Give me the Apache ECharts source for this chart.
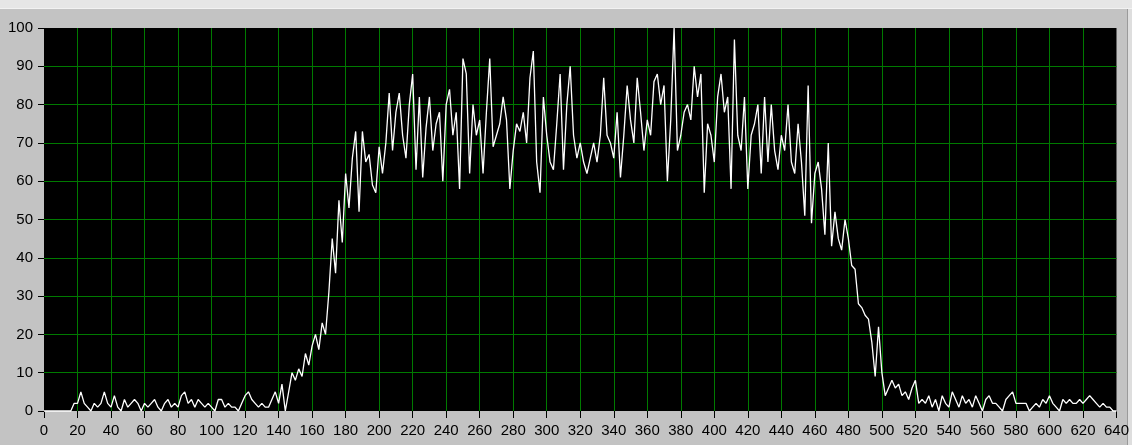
<!DOCTYPE html>
<html>
<head>
<meta charset="utf-8">
<script src="https://cdn.jsdelivr.net/npm/echarts@6/dist/echarts.min.js"></script>
<style>
html,body{margin:0;padding:0;background:#c3c3c3;}
#chart{width:1132px;height:445px;}
</style>
</head>
<body>
<div id="chart"></div>
<script>
// sample spacing along the x axis (units)
const SAMPLE_STEP = 2;
// signal values, one per SAMPLE_STEP starting at x = 0
const signalLow = [
  0,0,0,0,0,0,0,0,0, 2, 2,5,2,1,0,2,1,2,5,2,
  1,4,1,0,3,1,2,3,2,0, 2,1,2,3,1,0,2,3,1,2,
  1,4,5,2,3,1,3,2,1,2, 1,0,3,3,1,2,1,1,0,2,
  4,5,3,2,1,2,1,1,3,5, 2,7,0,5,10,8,11,9,15,12
];
const signalRise = [
  17,20,16,23,20,31,45,36,55,44, 62,53,66,73,52,73,65,67,59,57
];
const signalPlateau = [
  69,62,70,83,68,78,83,72,66,80, 88,63,82,61,74,82,68,75,78,60,
  80,84,72,78,58,92,88,62,80,72, 76,62,78,92,69,72,75,82,76,58,
  68,75,73,78,70,87,94,65,57,82, 72,65,63,75,88,63,80,90,72,66,
  70,65,62,66,70,65,72,87,72,70, 66,78,61,72,85,76,70,87,78,68,
  76,72,86,88,80,85,60,76,100,68, 72,78,80,76,90,82,88,57,75,72,
  65,82,88,78,82,58,97,72,68,82, 58,72,75,80,62,82,65,80,68,63,
  72,68,80,65,62,75,65,51,85,49
];
const signalFall = [
  62,65,58,46,70,43,52,45,42,50, 45,38,37,28,27,25,24,18,9,22
];
const signalTail = [
  10,4,6,8,6,7,4,5,3,6, 8,2,3,2,4,1,3,0,4,2,
  1,5,3,1,4,2,3,1,4,2, 0,3,4,2,2,1,0,3,4,5,
  2,2,2,2,0,1,2,1,3,2, 4,2,1,0,3,2,3,2,2,3,
  2,3,4,3,2,1,2,1,1,0, 0
];
const signal = [].concat(signalLow, signalRise, signalPlateau, signalFall, signalTail);

const xTicks = {min: 0, max: 640, interval: 20};
const yTicks = {min: 0, max: 100, interval: 10};

const seriesData = signal.map((v, i) => [i * SAMPLE_STEP, v]);

const labelFont = "'Liberation Sans Narrow','Arial Narrow','Liberation Sans',sans-serif";
const gridGreen = '#007a00';

const chart = echarts.init(document.getElementById('chart'), null, {renderer: 'canvas'});
chart.setOption({
  animation: false,
  backgroundColor: '#c3c3c3',
  graphic: [
    {type: 'rect', shape: {x: 0, y: 0, width: 1132, height: 8}, style: {fill: '#e6e6e6'}, silent: true},
    {type: 'rect', shape: {x: 0, y: 8, width: 1132, height: 1}, style: {fill: '#f2f2f2'}, silent: true},
    {type: 'rect', shape: {x: 1127, y: 9, width: 1, height: 436}, style: {fill: '#9a9a9a'}, silent: true},
    {type: 'rect', shape: {x: 1128, y: 9, width: 4, height: 436}, style: {fill: '#dedede'}, silent: true}
  ],
  grid: {
    left: 44, top: 28, width: 1073, height: 383,
    show: true, backgroundColor: '#000000', borderWidth: 0
  },
  xAxis: {
    type: 'value',
    min: xTicks.min, max: xTicks.max, interval: xTicks.interval,
    offset: 3,
    axisLine: {show: false},
    axisTick: {show: true, length: 7, lineStyle: {color: '#000', width: 1}},
    axisLabel: {color: '#000', fontFamily: labelFont, fontSize: 15, margin: 9, showMinLabel: true, showMaxLabel: true},
    splitLine: {show: true, showMinLine: false, showMaxLine: false, lineStyle: {color: gridGreen, width: 1}}
  },
  yAxis: {
    type: 'value',
    min: yTicks.min, max: yTicks.max, interval: yTicks.interval,
    offset: 4,
    axisLine: {show: false},
    axisTick: {show: true, length: 6, lineStyle: {color: '#000', width: 1}},
    axisLabel: {color: '#000', fontFamily: labelFont, fontSize: 15, margin: 7},
    splitLine: {show: true, showMinLine: false, showMaxLine: false, lineStyle: {color: gridGreen, width: 1}}
  },
  series: [{
    type: 'line',
    data: seriesData,
    showSymbol: false,
    symbol: 'none',
    lineStyle: {color: '#ffffff', width: 1.3},
    clip: false,
    z: 5
  }]
});
</script>
</body>
</html>
